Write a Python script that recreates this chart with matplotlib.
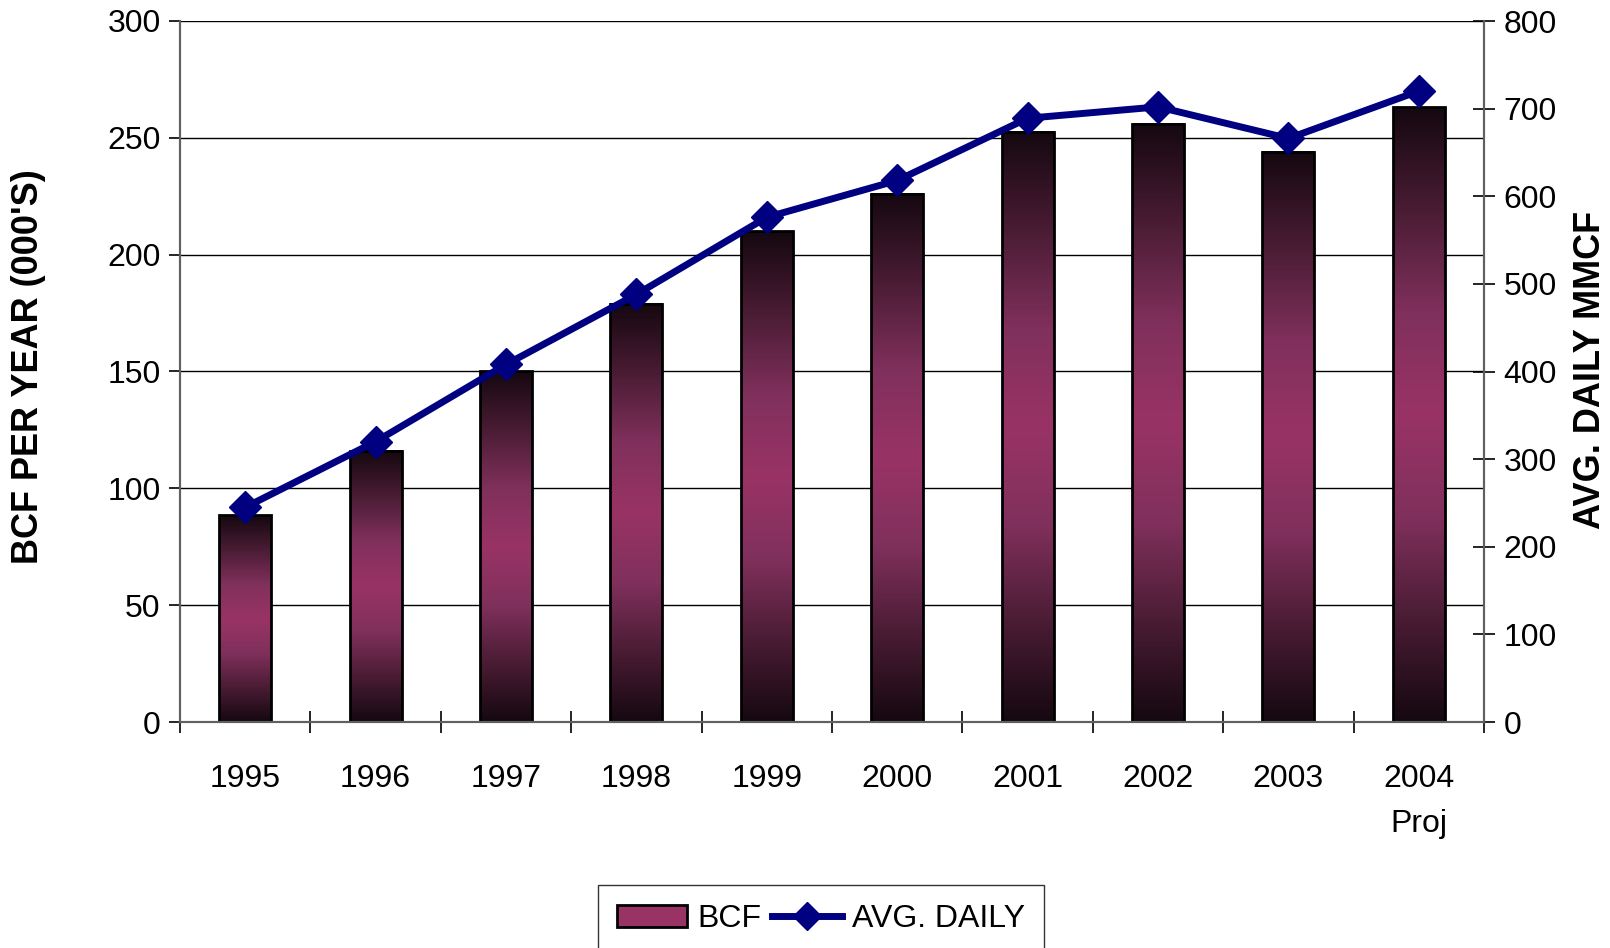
import numpy as np
import matplotlib.pyplot as plt
from matplotlib.colors import LinearSegmentedColormap
from matplotlib.lines import Line2D
from matplotlib.patches import Patch

plt.rcParams['font.family'] = ['Liberation Sans', 'DejaVu Sans']

years = ['1995', '1996', '1997', '1998', '1999', '2000', '2001', '2002', '2003', '2004\nProj']
bcf = [88.5, 116, 150, 179, 210, 226, 252.5, 256, 244, 263]
avg_daily = [245, 320, 408, 488, 576, 618, 689, 702, 666, 720]

plum = LinearSegmentedColormap.from_list('plum', ['#150810', '#4a1c34', '#80305c', '#993366',
                                                  '#80305c', '#4a1c34', '#150810'])

fig = plt.figure(figsize=(16.1, 9.48), dpi=100)
ax = fig.add_axes([180/1610, 1 - 722/948, (1484-180)/1610, (722-21)/948])
ax2 = ax.twinx()

x = np.arange(len(years))
bars = ax.bar(x, bcf, width=0.4, color='none', edgecolor='black', linewidth=2, zorder=3)
grad = np.linspace(0, 1, 256).reshape(-1, 1)
for b in bars:
    x0, y0 = b.get_x(), b.get_y()
    ax.imshow(grad, cmap=plum, aspect='auto', zorder=2,
              extent=[x0, x0 + b.get_width(), y0, y0 + b.get_height()], origin='lower')

ax.set_xlim(-0.5, len(years) - 0.5)
ax.set_ylim(0, 300)
ax.set_yticks(np.arange(0, 301, 50))
ax.yaxis.grid(True, color='black', linewidth=1)
ax.set_axisbelow(True)

ax.set_xticks(x)
ax.set_xticklabels(years, fontsize=23, linespacing=1.65)
ax.set_xticks(np.arange(-0.5, len(years), 1), minor=True)
ax.tick_params(axis='x', which='major', length=0, pad=30)
ax.tick_params(axis='x', which='minor', direction='inout', length=16, width=1.2)
ax.tick_params(axis='y', direction='out', length=8, width=1.2, labelsize=23, pad=6)

ax2.plot(x, avg_daily, color='#000080', linewidth=5, marker='D', markersize=16, zorder=5)
ax2.set_ylim(0, 800)
ax2.set_yticks(np.arange(0, 801, 100))
ax2.tick_params(axis='y', direction='inout', length=16, width=1.2, labelsize=23, pad=6)

for a in (ax, ax2):
    for s in a.spines.values():
        s.set_color('#606060')
        s.set_linewidth(1.5)
    a.spines['top'].set_visible(False)

fig.text(29/1610, 1 - 367/948, "BCF PER YEAR (000'S)", fontsize=26, fontweight='bold',
         rotation=90, ha='center', va='center')
fig.text(1590/1610, 1 - 370/948, 'AVG. DAILY MMCF', fontsize=26, fontweight='bold',
         rotation=90, ha='center', va='center')

handles = [Patch(facecolor='#993366', edgecolor='black', linewidth=2),
           Line2D([], [], color='#000080', linewidth=5, marker='D', markersize=14)]
leg = fig.legend(handles, ['BCF', 'AVG. DAILY'], loc='upper center', ncol=2,
                 bbox_to_anchor=(821/1610, 1 - 885/948), borderaxespad=0, fontsize=23,
                 frameon=True, fancybox=False, edgecolor='black', handlelength=2.2,
                 handletextpad=0.3, columnspacing=0.35, borderpad=0.6)
leg.get_frame().set_linewidth(1)

fig.savefig('out.png', dpi=100)
